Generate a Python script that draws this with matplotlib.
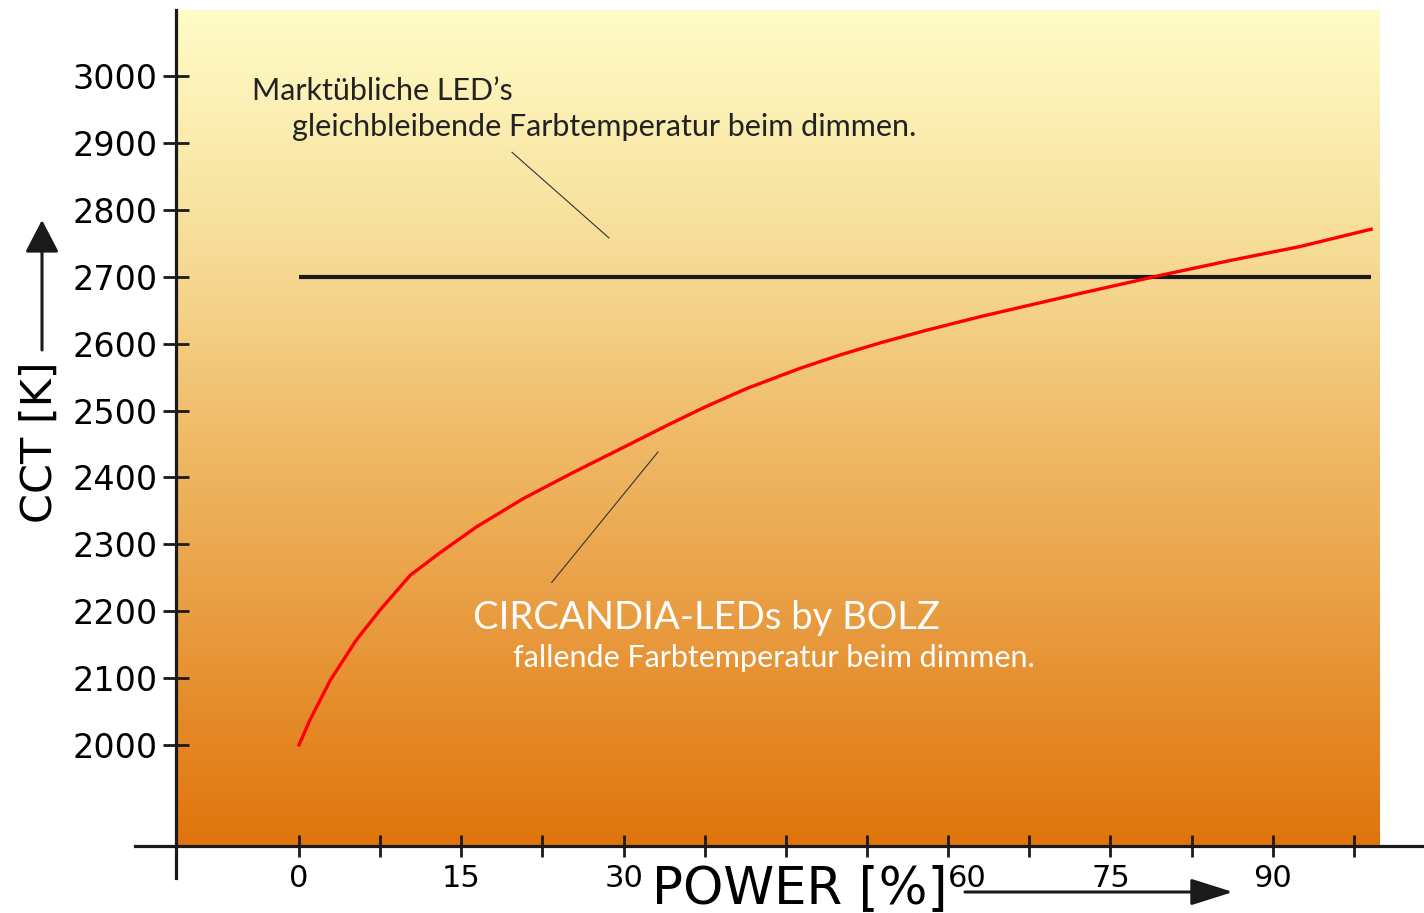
import numpy as np
import matplotlib
matplotlib.use('Agg')
import matplotlib.pyplot as plt

# ---------------- data ----------------
power_circandia = [0, 1.0, 2.9, 5.3, 7.5, 10.3, 13.0, 16.4, 20.7, 25.3, 30.0, 34.3,
                   37.5, 41.4, 46.3, 50.0, 53.7, 58.0, 62.9, 72.2, 79.9, 86.3, 92.5, 99.1]
cct_circandia   = [2000, 2037, 2097, 2157, 2202, 2254, 2287, 2326, 2368, 2407, 2445, 2480,
                   2505, 2533, 2563, 2583, 2601, 2620, 2640, 2675, 2703, 2725, 2745, 2771]
power_standard  = [0, 99.1]
cct_standard    = [2700, 2700]

x_ticks       = np.arange(0, 98, 7.5)
x_tick_labels = ['0', '', '15', '', '30', '', '', '', '60', '', '75', '', '90', '']
y_ticks       = np.arange(2000, 3001, 100)

label_std_1  = 'Marktübliche LED\u2019s'
label_std_2  = 'gleichbleibende Farbtemperatur beim dimmen.'
label_circ_1 = 'CIRCANDIA-LEDs by BOLZ'
label_circ_2 = 'fallende Farbtemperatur beim dimmen.'

W, H = 1424, 913
def px(x, y): return (x/float(W), 1-y/float(H))

fig = plt.figure(figsize=(W/100., H/100.), dpi=100)
fig.patch.set_facecolor('white')
l, t = px(176, 10)
r, b = px(1380, 846)
ax = fig.add_axes([l, b, r-l, t-b])
xlim, ylim = (-11.37, 99.92), (1849, 3098.7)

##################### background gradient ########################
stops_f = [0.0, 0.2, 0.33, 0.5, 0.7, 0.85, 1.0]
stops_c = np.array([(255, 252, 200), (249, 231, 166), (245, 214, 143), (240, 188, 106),
                    (234, 160, 70), (229, 138, 40), (224, 116, 12)])/255.
f = np.linspace(0, 1, 400)
grad = np.stack([np.interp(f, stops_f, stops_c[:, k]) for k in range(3)], axis=1)[:, None, :]
ax.imshow(grad, extent=[xlim[0], xlim[1], ylim[0], ylim[1]], aspect='auto',
          origin='upper', interpolation='bilinear', zorder=0)

##################### the curves ########################
ax.plot(power_standard, cct_standard, color='#1a1a1a', lw=3.0, solid_capstyle='butt', zorder=3)
ax.plot(power_circandia, cct_circandia, color='#ff0000', lw=2.4, zorder=4,
        solid_joinstyle='round')

ax.set_xlim(*xlim)
ax.set_ylim(*ylim)
for s in ax.spines.values(): s.set_visible(False)

##################### axes lines, ticks ########################
axc = '#1a1a1a'
ax.plot([xlim[0], xlim[0]], [1801, ylim[1]], color=axc, lw=2.3, clip_on=False, zorder=5)
ax.plot([-15.16, 103.98], [ylim[0], ylim[0]], color=axc, lw=2.3, clip_on=False, zorder=5)

ax.set_yticks(y_ticks)
ax.set_yticklabels([str(v) for v in y_ticks])
ax.set_xticks(x_ticks)
ax.set_xticklabels(x_tick_labels)
ax.tick_params(axis='y', direction='inout', length=19.4, width=2.0, color=axc, pad=3.5,
               labelsize=24, labelcolor='black')
ax.tick_params(axis='x', direction='inout', length=15.8, width=2.0, color=axc, pad=5,
               labelsize=22, labelcolor='black')
ax.xaxis.get_major_ticks()[8].label1.set_horizontalalignment('left')

##################### axis titles and arrows ########################
fig.text(*px(40, 442), 'CCT [K]', rotation=90, ha='center', va='center', fontsize=31)
fig.text(*px(652, 903), 'POWER [%]', ha='left', va='baseline', fontsize=37)
fig.add_artist(matplotlib.patches.FancyArrowPatch(px(42, 350), px(42, 220), transform=fig.transFigure,
               arrowstyle='-|>,head_length=1.0,head_width=0.52', mutation_scale=20, lw=2.2,
               color=axc, shrinkA=0, shrinkB=0))
fig.add_artist(matplotlib.patches.FancyArrowPatch(px(965, 892), px(1233, 892), transform=fig.transFigure,
               arrowstyle='-|>,head_length=1.3,head_width=0.41', mutation_scale=20, lw=2.2,
               color=axc, shrinkA=0, shrinkB=0))

##################### annotations ########################
ax.text(-4.34, 2964, label_std_1, family='Lato', fontsize=22, color='#222222', va='baseline', zorder=6)
ax.text(-0.65, 2910, label_std_2, family='Lato', fontsize=22, color='#222222', va='baseline', zorder=6)
ax.plot([19.69, 28.65], [2886, 2758], color='#333333', lw=0.8, zorder=6)

ax.text(16.08, 2174, label_circ_1, family='Lato', fontsize=27.5, color='white', va='baseline', zorder=6)
ax.text(19.78, 2117, label_circ_2, family='Lato', fontsize=22, color='white', va='baseline', zorder=6)
ax.plot([33.18, 23.36], [2438, 2243], color='#333333', lw=0.8, zorder=6)

plt.savefig('out.png', dpi=100)
